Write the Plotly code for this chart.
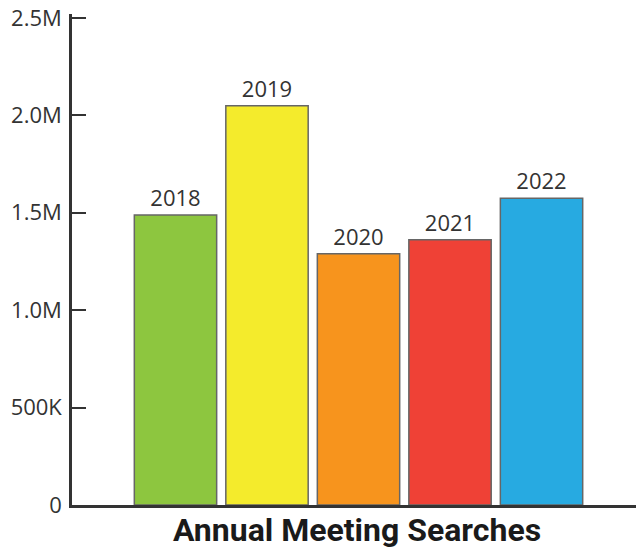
import plotly.graph_objects as go

years = ["2018", "2019", "2020", "2021", "2022"]
searches = [1488000, 2049000, 1290000, 1361000, 1575000]
colors = ["#8DC63F", "#F4EB2C", "#F7941D", "#EF4136", "#27AAE1"]
tick_vals = [0, 500000, 1000000, 1500000, 2000000, 2500000]
tick_text = ["0", "500K", "1.0M", "1.5M", "2.0M", "2.5M"]

fig = go.Figure(go.Bar(
    x=years, y=searches,
    marker=dict(color=colors, line=dict(color="#666666", width=1.5)),
    width=0.9,
    text=years, textposition="outside", cliponaxis=False,
    textfont=dict(family="Open Sans", size=22, color="#333333"),
))

fig.add_shape(type="line", xref="paper", yref="y", x0=1, x1=1, y0=0, y1=42000,
              line=dict(color="#333333", width=2.5))

fig.update_layout(
    width=636, height=546,
    margin=dict(l=64, r=2, t=6, b=49, autoexpand=False),
    plot_bgcolor="white", paper_bgcolor="white",
    showlegend=False,
    xaxis=dict(range=[-1.131, 5.098], showticklabels=False, ticks="",
               showline=True, linecolor="#333333", linewidth=2.5, showgrid=False,
               zeroline=False, automargin=False,
               title=dict(text="<b>Annual Meeting Searches</b>", standoff=12,
                          font=dict(family="Roboto", size=32, weight=900, color="#1a1a1a"))),
    yaxis=dict(range=[0, 2520000], tickvals=tick_vals, ticktext=tick_text,
               ticks="inside", ticklen=14, tickwidth=2, tickcolor="#333333",
               showline=True, linecolor="#333333", linewidth=2.5, showgrid=False,
               zeroline=False, automargin=False, ticklabelstandoff=3,
               ticklabeloverflow="allow",
               tickfont=dict(family="Open Sans", size=22, color="#333333")),
)

fig.write_html("out.html")
